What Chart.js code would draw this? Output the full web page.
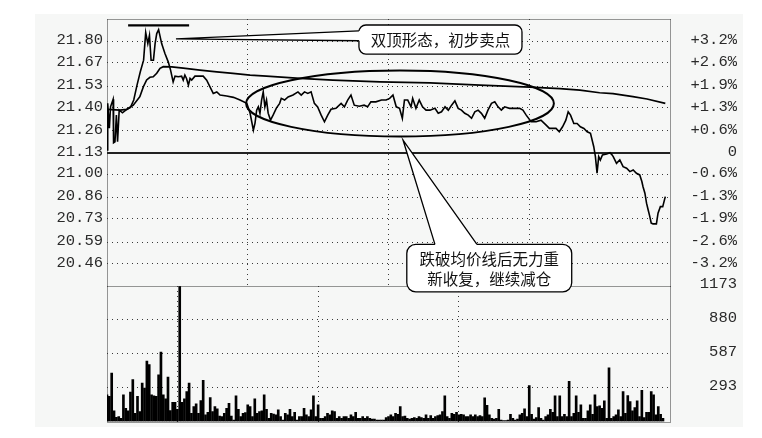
<!DOCTYPE html>
<html><head><meta charset="utf-8">
<script src="https://cdn.jsdelivr.net/npm/chart.js@4"></script>
<style>
html,body{margin:0;padding:0;background:#fff;}
#wrap{position:relative;width:762px;height:438px;overflow:hidden;}
#bg{position:absolute;left:35px;top:14px;width:708px;height:413px;background:#f6f7f6;}
#cv{position:absolute;left:0;top:0;z-index:1;}
#cp{position:absolute;left:0;top:0;z-index:2;}
</style></head><body>
<div id="wrap"><div id="bg"></div>
<canvas id="cv" width="762" height="438"></canvas>
<canvas id="cp" width="762" height="438"></canvas>
</div>
<script>
// ---------- data ----------
const prevClose = 21.13;
const minuteTicks = [0, 60, 120, 180, 240];
const priceTickValues = [21.80, 21.67, 21.53, 21.40, 21.26, 21.13, 21.00, 20.86, 20.73, 20.59, 20.46];
const priceTickLabels = ['21.80','21.67','21.53','21.40','21.26','21.13','21.00','20.86','20.73','20.59','20.46'];
const pctTickLabels = ['+3.2%','+2.6%','+1.9%','+1.3%','+0.6%','0','-0.6%','-1.3%','-1.9%','-2.6%','-3.2%'];
const volTickValues = [293.25, 586.5, 879.75, 1173];
const volTickLabels = ['293','587','880','1173'];

const priceMinutes = [
  0,0.3,1,1.5,2.6,2.8,3.4,4,4.5,5.2,
  6.6,8,10,11.4,12.8,14.2,15.6,16.5,17.4,18.1,
  18.8,19.8,20.5,21.2,22,23.3,24.7,26.1,27.1,28.2,
  29,30.4,31.8,32.5,33.2,33.9,34.7,35.4,36.1,37.5,
  39,41,42.5,43.9,45.3,46.8,48.2,51,53.9,56.7,
  59.6,61,62.4,63.1,63.8,64.5,65.2,65.9,66.6,67.3,
  68,68.7,69.7,70.8,72.2,73.6,74.3,75.7,77.2,79.3,
  81.4,82.8,84.2,85.6,87,88.4,89.8,91.3,92.7,94.1,
  95.5,97.6,99.8,101.2,102.6,104,105.4,107.5,109.6,111.1,
  112.5,114.6,117,119,120.5,121.9,123.3,124.7,125.9,126.8,
  128.2,129.6,130.3,131.7,133.1,134.5,136,137.7,139.8,141.2,
  142.6,144.1,145.5,146.9,148.3,149.7,151.1,152.5,154,155.4,
  156.8,158.2,159.6,161,162.4,163.9,165.3,166.7,168.1,169.5,
  171.6,173.7,175.9,177.3,178.7,180.8,182.9,185,187.2,188.6,
  190,191.4,192.8,194.2,195.6,196.6,197.6,199,200.4,201.8,
  203.3,204.7,206.1,207.5,208.2,208.9,209.6,210.3,211.2,213,
  214.4,215.1,215.8,217.2,218.6,220,221.5,222.9,224.3,225.7,
  227.1,228,228.5,229.3,230,230.7,231.4,232,232.8,234.2,
  234.9,235.9,236.9,238
];
const priceValues = [
  21.145,21.427,21.277,21.405,21.45,21.189,21.195,21.355,21.195,21.385,
  21.369,21.385,21.402,21.446,21.536,21.616,21.686,21.852,21.786,21.836,
  21.686,21.686,21.786,21.846,21.87,21.786,21.726,21.676,21.626,21.555,
  21.59,21.586,21.59,21.566,21.596,21.576,21.536,21.576,21.566,21.59,
  21.59,21.59,21.566,21.525,21.486,21.495,21.476,21.47,21.462,21.446,
  21.426,21.366,21.265,21.307,21.385,21.405,21.366,21.446,21.495,21.405,
  21.446,21.367,21.325,21.355,21.397,21.426,21.456,21.446,21.465,21.476,
  21.495,21.476,21.495,21.486,21.495,21.426,21.405,21.355,21.315,21.355,
  21.39,21.396,21.426,21.405,21.446,21.476,21.415,21.409,21.415,21.405,
  21.435,21.435,21.446,21.446,21.456,21.476,21.405,21.396,21.336,21.446,
  21.446,21.405,21.456,21.396,21.446,21.405,21.385,21.385,21.396,21.366,
  21.375,21.405,21.385,21.415,21.441,21.396,21.385,21.366,21.355,21.336,
  21.375,21.385,21.366,21.336,21.385,21.426,21.435,21.405,21.385,21.405,
  21.396,21.396,21.396,21.385,21.355,21.315,21.315,21.325,21.295,21.275,
  21.275,21.275,21.255,21.285,21.325,21.375,21.355,21.305,21.305,21.285,
  21.275,21.255,21.245,21.165,21.105,21.005,21.105,21.085,21.115,21.121,
  21.129,21.119,21.105,21.065,21.085,21.045,21.035,21.015,21.025,21.005,
  20.995,20.955,20.924,20.885,20.825,20.784,20.744,20.705,20.7,20.7,
  20.765,20.804,20.804,20.864
];
const avgMinutes = [0,5.5,8.4,11.2,14,15.5,16.9,18.3,19.7,21.2,22.6,24,27.6,32.5,39.6,46.8,53.7,61,68,82.3,96.3,116.4,137.7,159,180.3,193,201.6,210,215.7,224.2,230.2,238];
const avgValues = [21.39,21.385,21.39,21.415,21.466,21.526,21.567,21.583,21.586,21.607,21.637,21.647,21.646,21.638,21.626,21.616,21.606,21.596,21.59,21.576,21.566,21.555,21.549,21.536,21.524,21.515,21.506,21.49,21.484,21.466,21.452,21.426];

const volumes = [
  231,217,420,92,36,42,28,231,115,92,
  254,362,71,217,86,333,289,522,493,231,
  222,217,405,600,231,196,385,94,167,167,
  106,1173,167,196,260,333,71,129,153,71,
  182,356,57,80,208,86,129,109,48,42,
  71,115,158,48,13,222,106,42,71,77,
  144,129,42,196,71,86,92,231,106,28,
  71,65,57,100,42,13,71,57,106,42,
  80,13,42,42,115,57,42,100,222,42,
  144,28,28,42,71,57,92,86,28,42,
  28,42,42,28,57,42,80,28,28,42,
  28,42,28,22,22,13,13,13,13,33,
  42,57,42,71,62,129,42,48,28,22,
  28,33,28,42,33,28,57,28,51,28,
  42,51,57,86,222,42,28,71,62,80,
  57,62,57,42,42,57,42,57,42,51,
  42,205,140,57,28,22,28,106,13,7,
  7,13,62,28,13,22,57,71,109,42,
  310,62,22,33,121,28,13,42,57,106,
  80,222,42,222,42,62,42,347,42,71,
  222,80,144,28,28,92,144,62,231,129,
  135,115,179,28,464,28,42,57,100,42,
  260,71,225,173,92,121,180,42,270,33,
  80,80,260,231,57,129,62,28
];

// ---------- annotations (in data units) ----------
const notes = {
  topBar: {m0: 9, m1: 35, p: 21.896},
  callout1: {m0: 107.4, m1: 176.9, p0: 21.898, p1: 21.723, tipM: 29.4, tipP: 21.814, baseP0: 21.862, baseP1: 21.803,
             lines: ['双顶形态，初步卖点']},
  ellipse: {m: 124.9, p: 21.425, dm: 65.6, dp: 0.199},
  callout2: {m0: 127.8, m1: 198.1, p0: 20.577, p1: 20.291, tipM: 126.2, tipP: 21.205, baseM0: 139.8, baseM1: 157.7,
             lines: ['跌破均价线后无力重', '新收复，继续减仓']}
};

// ---------- chart setup ----------
const MONO = "'Liberation Mono', 'DejaVu Sans Mono', monospace";
const CJK = "'Noto Sans CJK SC', 'Noto Sans', sans-serif";
Chart.defaults.font.family = MONO;
Chart.defaults.color = '#2a2a2a';

const X0 = 0, X1 = 240;
const PMIN = 20.326, PMAX = 21.934;
const GRID = '#3a3a3a';
const LABEL_FONT = {size: 15.5};
const LABEL_COLOR = '#2a2a2a';

function setTicks(values) { return scale => { scale.ticks = values.map(v => ({value: v})); }; }
function labelFrom(values, labels) {
  return (value) => {
    let best = 0, d = 1e9;
    values.forEach((v, i) => { const dd = Math.abs(v - value); if (dd < d) { d = dd; best = i; } });
    return labels[best];
  };
}
function fixSize(w) {
  return s => {
    if (w !== null) s.width = w; else s.height = 0;
    s.paddingTop = 0; s.paddingBottom = 0; s.paddingLeft = 0; s.paddingRight = 0;
  };
}
const xGridColor = ctx => (ctx.tick && (ctx.tick.value === X0 || ctx.tick.value === X1)) ? 'rgba(0,0,0,0)' : GRID;

function line(ctx, x1, y1, x2, y2) {
  ctx.beginPath(); ctx.moveTo(x1, y1); ctx.lineTo(x2, y2); ctx.stroke();
}

const framePlugin = (sides, withBase) => ({
  id: 'frame',
  beforeDatasetsDraw(chart) {
    const a = chart.chartArea, c = chart.ctx;
    c.save();
    c.strokeStyle = '#333'; c.lineWidth = 1; c.setLineDash([1, 1]);
    const L = Math.round(a.left) + 0.5, R = Math.round(a.right) + 0.5;
    const T = Math.round(a.top) + 0.5, B = Math.round(a.bottom) + 0.5;
    if (sides.includes('t')) line(c, L, T, R, T);
    if (sides.includes('b')) line(c, L, B, R, B);
    if (sides.includes('l')) line(c, L, T, L, B);
    if (sides.includes('r')) line(c, R, T, R, B);
    c.setLineDash([]);
    if (withBase) {
      const y = Math.round(chart.scales.y.getPixelForValue(prevClose));
      c.strokeStyle = '#222'; c.lineWidth = 2;
      line(c, a.left, y, a.right, y);
    }
    c.restore();
  }
});

function roundRectPath(c, x, y, w, h, r) {
  c.beginPath();
  c.moveTo(x + r, y);
  c.arcTo(x + w, y, x + w, y + h, r);
  c.arcTo(x + w, y + h, x, y + h, r);
  c.arcTo(x, y + h, x, y, r);
  c.arcTo(x, y, x + w, y, r);
  c.closePath();
}

const notesPlugin = {
  id: 'notes',
  afterDraw(chart) {
    const c = chart.ctx, xs = chart.scales.x, ys = chart.scales.y;
    const X = m => xs.getPixelForValue(m), Y = p => ys.getPixelForValue(p);
    c.save();
    c.strokeStyle = '#000'; c.fillStyle = '#fff';
    const tb = notes.topBar;
    c.lineWidth = 2.2;
    line(c, X(tb.m0), Y(tb.p), X(tb.m1), Y(tb.p));
    const e = notes.ellipse;
    c.lineWidth = 2;
    c.beginPath();
    c.ellipse(X(e.m), Y(e.p), X(e.m + e.dm) - X(e.m), Y(e.p) - Y(e.p + e.dp), 0, 0, Math.PI * 2);
    c.stroke();
    const c1 = notes.callout1;
    let bx = X(c1.m0), by = Y(c1.p0), bw = X(c1.m1) - bx, bh = Y(c1.p1) - by;
    c.lineWidth = 1.3;
    roundRectPath(c, bx, by, bw, bh, 7); c.fill(); c.stroke();
    let tx = X(c1.tipM), ty = Y(c1.tipP), b0 = Y(c1.baseP0), b1 = Y(c1.baseP1);
    c.beginPath(); c.moveTo(tx, ty); c.lineTo(bx, b0); c.lineTo(bx + 2, b0); c.lineTo(bx + 2, b1); c.lineTo(bx, b1); c.closePath(); c.fill();
    c.beginPath(); c.moveTo(bx, b0); c.lineTo(tx, ty); c.lineTo(bx, b1); c.stroke();
    c.fillStyle = '#111'; c.font = '15.5px ' + CJK; c.textAlign = 'center'; c.textBaseline = 'middle';
    c.fillText(c1.lines[0], bx + bw / 2, by + bh / 2 + 1);
    const c2 = notes.callout2;
    c.fillStyle = '#fff';
    bx = X(c2.m0); by = Y(c2.p0); bw = X(c2.m1) - bx; bh = Y(c2.p1) - by;
    roundRectPath(c, bx, by, bw, bh, 9); c.fill(); c.stroke();
    tx = X(c2.tipM); ty = Y(c2.tipP);
    const x0 = X(c2.baseM0), x1 = X(c2.baseM1);
    c.beginPath(); c.moveTo(tx, ty); c.lineTo(x0, by); c.lineTo(x0, by + 2); c.lineTo(x1, by + 2); c.lineTo(x1, by); c.closePath(); c.fill();
    c.beginPath(); c.moveTo(x0, by); c.lineTo(tx, ty); c.lineTo(x1, by); c.stroke();
    c.fillStyle = '#111';
    c.fillText(c2.lines[0], bx + bw / 2, by + bh / 2 - 9);
    c.fillText(c2.lines[1], bx + bw / 2, by + bh / 2 + 11);
    c.restore();
  }
};

const xScale = {
  type: 'linear', min: X0, max: X1, offset: false,
  afterBuildTicks: setTicks(minuteTicks),
  ticks: {display: false},
  grid: {color: xGridColor, lineWidth: 1, drawTicks: false, tickLength: 0},
  border: {display: false, dash: [1, 4]},
  afterFit: fixSize(null)
};

// price chart
new Chart(document.getElementById('cp'), {
  type: 'line',
  data: {
    datasets: [
      {data: priceMinutes.map((m, i) => ({x: m, y: priceValues[i]})), borderColor: '#000', borderWidth: 1.6, pointRadius: 0, tension: 0, yAxisID: 'y'},
      {data: avgMinutes.map((m, i) => ({x: m, y: avgValues[i]})), borderColor: '#000', borderWidth: 1.7, pointRadius: 0, tension: 0, yAxisID: 'y'}
    ]
  },
  options: {
    responsive: false, maintainAspectRatio: false, animation: false,
    layout: {padding: {left: 0, right: 25, top: 19, bottom: 152}},
    plugins: {legend: {display: false}, tooltip: {enabled: false}},
    scales: {
      x: xScale,
      y: {
        type: 'linear', position: 'left', min: PMIN, max: PMAX,
        afterBuildTicks: setTicks(priceTickValues),
        ticks: {callback: labelFrom(priceTickValues, priceTickLabels), font: LABEL_FONT, color: LABEL_COLOR, padding: 4, labelOffset: -1},
        grid: {color: ctx => (ctx.tick && Math.abs(ctx.tick.value - prevClose) < 1e-6) ? 'rgba(0,0,0,0)' : GRID, drawTicks: false, tickLength: 0},
        border: {display: false, dash: [1, 4]},
        afterFit: fixSize(107)
      },
      yr: {
        type: 'linear', position: 'right', min: PMIN, max: PMAX,
        afterBuildTicks: setTicks(priceTickValues),
        ticks: {callback: labelFrom(priceTickValues, pctTickLabels), font: LABEL_FONT, color: LABEL_COLOR, padding: 18, crossAlign: 'far', labelOffset: -1},
        grid: {display: false, drawTicks: false, tickLength: 0},
        border: {display: false},
        afterFit: fixSize(67)
      }
    }
  },
  plugins: [framePlugin('tblr', true), notesPlugin]
});

// volume chart
new Chart(document.getElementById('cv'), {
  type: 'bar',
  data: {
    datasets: [{
      data: volumes.map((v, i) => ({x: i, y: v})),
      backgroundColor: '#000', borderWidth: 0, barThickness: 2
    }]
  },
  options: {
    responsive: false, maintainAspectRatio: false, animation: false,
    layout: {padding: {left: 107, right: 25, top: 286, bottom: 16.5}},
    plugins: {legend: {display: false}, tooltip: {enabled: false}},
    scales: {
      x: xScale,
      y: {
        type: 'linear', position: 'right', min: 0, max: 1173,
        afterBuildTicks: setTicks(volTickValues),
        ticks: {callback: labelFrom(volTickValues, volTickLabels), font: LABEL_FONT, color: LABEL_COLOR, padding: 28, crossAlign: 'far', labelOffset: -2},
        grid: {color: ctx => (ctx.tick && ctx.tick.value >= 1173) ? 'rgba(0,0,0,0)' : GRID, drawTicks: false, tickLength: 0},
        border: {display: false, dash: [1, 4]},
        afterFit: fixSize(67)
      }
    }
  },
  plugins: [framePlugin('blr', false)]
});
</script>
</body></html>
